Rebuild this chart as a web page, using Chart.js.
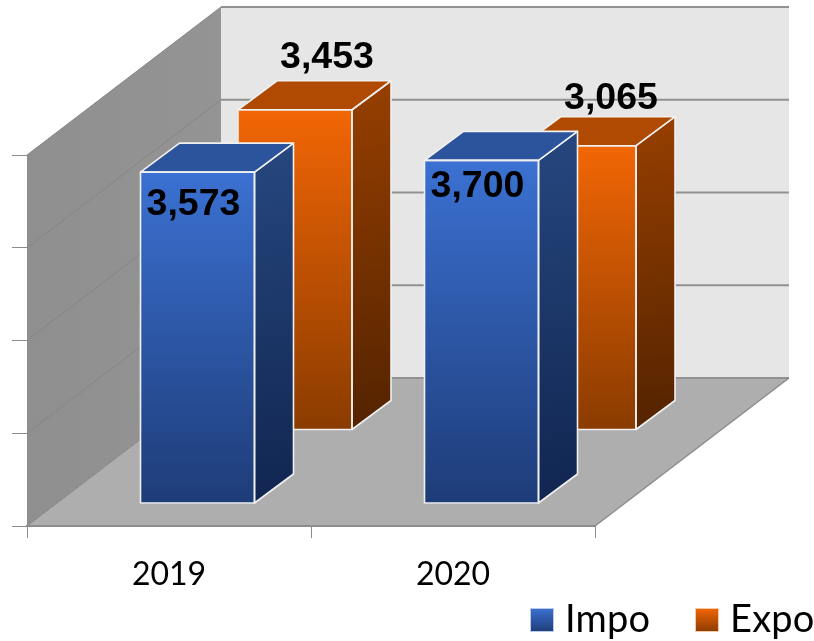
<!DOCTYPE html>
<html>
<head>
<meta charset="utf-8">
<style>
  html, body { margin: 0; background: #fff; }
  canvas { display: block; }
</style>
<script src="https://cdn.jsdelivr.net/npm/chart.js@4"></script>
</head>
<body>
<canvas id="tradeChart" width="814" height="641"></canvas>
<script>
const years = ['2019', '2020'];
const impoValues = [3573, 3700];
const expoValues = [3453, 3065];

// 3D look: how far the box of the chart and the bars go back
const boxDepth = { x: 194, y: -148 };
const barDepth = { x: 39, y: -29 };
const seriesShift = [{ x: 28.5, y: -22.5 }, { x: 126, y: -96 }];
const labelShift = [
  [{ x: -4, y: 33 }, { x: -4, y: 26 }],
  [{ x: 32, y: -52 }, { x: 32, y: -47 }]
];
const legendSpots = [{ box: 530, text: 565 }, { box: 695, text: 730 }];
const palette = [
  { top: '#3b71d2', bottom: '#1e3c78', sideTop: '#26477f', sideBottom: '#112550', lid: '#2b549c' },
  { top: '#f26605', bottom: '#8a3b00', sideTop: '#973f00', sideBottom: '#532300', lid: '#b04a02' }
];

const frontGradient = c => {
  const colors = palette[c.datasetIndex];
  const area = c.chart.chartArea;
  if (!area || c.parsed === undefined) return colors.top;
  const y = c.chart.scales.y;
  const g = c.chart.ctx.createLinearGradient(0, y.getPixelForValue(c.parsed.y), 0, y.getPixelForValue(0));
  g.addColorStop(0, colors.top);
  g.addColorStop(1, colors.bottom);
  return g;
};

const face = (ctx, pts, fill) => {
  ctx.beginPath();
  pts.forEach((p, i) => i ? ctx.lineTo(p[0], p[1]) : ctx.moveTo(p[0], p[1]));
  ctx.closePath();
  if (fill) {
    ctx.fillStyle = fill;
    ctx.fill();
  }
  ctx.strokeStyle = '#f0f0f0';
  ctx.lineWidth = 1.6;
  ctx.lineJoin = 'round';
  ctx.stroke();
};

const box3d = {
  id: 'box3d',
  // walls and floor go under the axes
  beforeDraw(chart) {
    const { ctx, chartArea: a, scales } = chart;
    const y = scales.y;
    const d = boxDepth;
    ctx.save();
    const wall = ctx.createLinearGradient(a.left, 0, a.left + d.x, 0);
    wall.addColorStop(0, '#8f8f8f');
    wall.addColorStop(1, '#949494');
    ctx.fillStyle = wall;
    ctx.beginPath();
    ctx.moveTo(a.left, a.top);
    ctx.lineTo(a.left + d.x, a.top + d.y);
    ctx.lineTo(a.left + d.x, a.bottom + d.y);
    ctx.lineTo(a.left, a.bottom);
    ctx.fill();
    ctx.fillStyle = '#e6e6e6';
    ctx.fillRect(a.left + d.x, a.top + d.y, a.right - a.left, a.bottom - a.top);
    ctx.fillStyle = '#aeaeae';
    ctx.beginPath();
    ctx.moveTo(a.left, a.bottom);
    ctx.lineTo(a.right, a.bottom);
    ctx.lineTo(a.right + d.x, a.bottom + d.y);
    ctx.lineTo(a.left + d.x, a.bottom + d.y);
    ctx.fill();
    y.ticks.forEach(t => {
      const py = y.getPixelForValue(t.value);
      ctx.strokeStyle = '#858585';
      ctx.lineWidth = 1;
      ctx.beginPath();
      ctx.moveTo(a.left, py);
      ctx.lineTo(a.left + d.x, py + d.y);
      ctx.stroke();
      ctx.strokeStyle = '#919191';
      ctx.lineWidth = 2;
      ctx.beginPath();
      ctx.moveTo(a.left + d.x, py + d.y);
      ctx.lineTo(a.right + d.x, py + d.y);
      ctx.stroke();
    });
    ctx.strokeStyle = '#8c8c8c';
    ctx.lineWidth = 1.5;
    ctx.beginPath();
    ctx.moveTo(a.right, a.bottom);
    ctx.lineTo(a.right + d.x, a.bottom + d.y);
    ctx.stroke();
    ctx.restore();
  },
  beforeDatasetDraw(chart, args) {
    const s = seriesShift[args.index];
    chart.ctx.save();
    chart.ctx.translate(s.x, s.y);
  },
  // the bar itself is the front face, add lid and right side to it
  afterDatasetDraw(chart, args) {
    const ctx = chart.ctx;
    const colors = palette[args.index];
    const dx = barDepth.x, dy = barDepth.y;
    args.meta.data.forEach(bar => {
      const l = bar.x - bar.width / 2, r = bar.x + bar.width / 2;
      const side = ctx.createLinearGradient(r, bar.y + dy, r + dx, bar.base);
      side.addColorStop(0, colors.sideTop);
      side.addColorStop(1, colors.sideBottom);
      face(ctx, [[r, bar.y], [r + dx, bar.y + dy], [r + dx, bar.base + dy], [r, bar.base]], side);
      face(ctx, [[l, bar.y], [l + dx, bar.y + dy], [r + dx, bar.y + dy], [r, bar.y]], colors.lid);
      face(ctx, [[l, bar.y], [r, bar.y], [r, bar.base], [l, bar.base]]);
    });
    ctx.restore();
  },
  afterDatasetsDraw(chart) {
    const ctx = chart.ctx;
    ctx.save();
    ctx.font = 'bold 37.5px "Liberation Sans"';
    ctx.fillStyle = '#000';
    ctx.textAlign = 'center';
    ctx.textBaseline = 'middle';
    chart.data.datasets.forEach((ds, i) => {
      chart.getDatasetMeta(i).data.forEach((bar, j) => {
        const s = seriesShift[i], o = labelShift[i][j];
        ctx.fillText(ds.data[j].toLocaleString('en-US'), bar.x + s.x + o.x, bar.y + s.y + o.y);
      });
    });
    ctx.restore();
  },
  // legend sits apart from the plot, down in the right corner
  afterDraw(chart) {
    const ctx = chart.ctx;
    ctx.save();
    ctx.font = '38px Lato';
    ctx.letterSpacing = '0.2px';
    ctx.textBaseline = 'alphabetic';
    chart.data.datasets.forEach((ds, i) => {
      const spot = legendSpots[i];
      const g = ctx.createLinearGradient(0, 608, 0, 632);
      g.addColorStop(0, palette[i].top);
      g.addColorStop(1, palette[i].bottom);
      ctx.fillStyle = g;
      ctx.fillRect(spot.box, 608, 24, 24);
      ctx.strokeStyle = i ? '#f7c9a8' : '#b9c9e8';
      ctx.lineWidth = 1;
      ctx.strokeRect(spot.box + 0.5, 608.5, 23, 23);
      ctx.fillStyle = '#000';
      ctx.fillText(ds.label, spot.text, 632);
    });
    ctx.restore();
  }
};

new Chart(document.getElementById('tradeChart').getContext('2d'), {
  type: 'bar',
  data: {
    labels: years,
    datasets: [
      { label: 'Impo', data: impoValues },
      { label: 'Expo', data: expoValues }
    ]
  },
  options: {
    responsive: false,
    animation: false,
    layout: { padding: { top: 155 } },
    datasets: { bar: { grouped: false, barThickness: 114, clip: false } },
    elements: {
      bar: {
        backgroundColor: frontGradient,
        borderWidth: 0
      }
    },
    scales: {
      x: {
        grid: { drawOnChartArea: false, color: '#8c8c8c', tickLength: 12, offset: true },
        border: { color: '#8c8c8c', width: 2 },
        ticks: { color: '#000', font: { family: 'Lato', size: 32 }, padding: 17, maxRotation: 0 },
        afterFit: s => { s.height = 641 - 526; }
      },
      y: {
        min: 0,
        max: 4000,
        grid: { drawOnChartArea: false, color: '#8c8c8c', tickLength: 15 },
        border: { color: '#8c8c8c' },
        ticks: { stepSize: 1000, display: false },
        afterFit: s => { s.width = 27; }
      },
      // keeps the right side free for the back of the box
      room: {
        axis: 'y',
        position: 'right',
        grid: { display: false },
        border: { display: false },
        ticks: { display: false },
        afterFit: s => { s.width = 219; }
      }
    },
    plugins: {
      legend: { display: false },
      tooltip: { enabled: false }
    }
  },
  plugins: [box3d]
});
</script>
</body>
</html>
